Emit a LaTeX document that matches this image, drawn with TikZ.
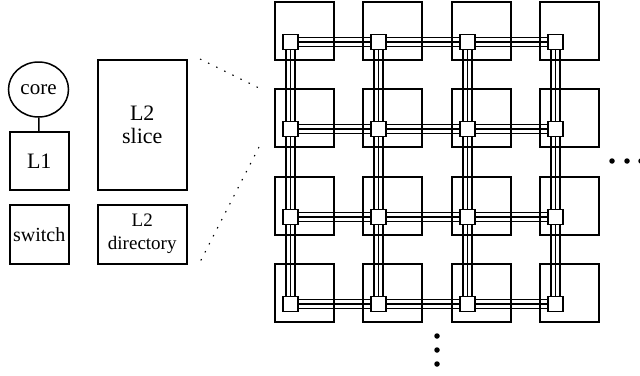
\documentclass[tikz,border=0pt]{standalone}
\usepackage{fontspec}
\setmainfont{Liberation Serif}
\usetikzlibrary{shapes.geometric}
\pgfdeclarelayer{bg}
\pgfsetlayers{bg,main}
\begin{document}
\begin{tikzpicture}[x=1pt,y=-1pt,
  box/.style={draw,line width=1.5pt,inner sep=0pt,anchor=north west,align=center},
  tile/.style={draw,line width=1.5pt,minimum width=59pt,minimum height=58pt,inner sep=0pt,anchor=north west},
  router/.style={draw,fill=white,line width=1.5pt,minimum size=15pt,inner sep=0pt},
  wire/.style={line width=1.3pt},
  zoomline/.style={line width=1.1pt,dash pattern=on 1.5pt off 7.5pt},
  dotmark/.style={circle,fill,inner sep=0pt,minimum size=5.5pt}]
\useasboundingbox (0,0) rectangle (640,375);

% left components
\node[ellipse,draw,line width=1.5pt,minimum width=60pt,minimum height=55pt,inner sep=0pt,font=\fontsize{21}{24}\selectfont] (core) at (38.5,89.5) {core};
\node[box,minimum width=59pt,minimum height=58pt,font=\fontsize{22}{24}\selectfont] (l1) at (9,131) {L1};
\node[box,minimum width=59pt,minimum height=59pt,font=\fontsize{20}{23}\selectfont] (switch) at (9,204) {switch};
\node[box,minimum width=89pt,minimum height=130pt,font=\fontsize{22}{23}\selectfont] (slice) at (97,59) {L2\\slice};
\node[box,minimum width=89pt,minimum height=59pt,font=\fontsize{19}{23}\selectfont] (dir) at (97,204) {L2\\directory};
\draw[line width=1.5pt] (core) -- (l1);

% zoom lines
\coordinate (z1) at (200,59);
\coordinate (z2) at (259,88);
\coordinate (z3) at (259,147);
\coordinate (z4) at (200,262);
\draw[zoomline] (z1) -- (z2);
\draw[zoomline] (z3) -- (z4);

% tiles and routers
\foreach \x [count=\i from 0] in {274,362,451,539}{
  \foreach \y [count=\j from 0] in {1,88,176,263}{
    \begin{pgfonlayer}{bg}
      \node[tile] (t\i\j) at (\x,\y) {};
    \end{pgfonlayer}
    \node[router] (r\i\j) at (\x+16.5,\y+41) {};
  }
}

% links
\begin{pgfonlayer}{bg}
\foreach \i in {0,...,2}{
  \pgfmathtruncatemacro\ni{\i+1}
  \foreach \j in {0,...,3}{
    \foreach \s in {-4.4,0,4.4}{
      \draw[wire] ([yshift=\s pt]r\i\j.east) -- ([yshift=\s pt]r\ni\j.west);
      \draw[wire] ([xshift=\s pt]r\j\i.south) -- ([xshift=\s pt]r\j\ni.north);
    }
  }
}
\end{pgfonlayer}

% ellipses
\node[dotmark] (h1) at (612,161) {};
\node[dotmark] (h2) at (627,161) {};
\node[dotmark] (h3) at (641,161) {};
\node[dotmark] (v1) at (437,336) {};
\node[dotmark] (v2) at (437,350) {};
\node[dotmark] (v3) at (437,364) {};
\end{tikzpicture}
\end{document}
